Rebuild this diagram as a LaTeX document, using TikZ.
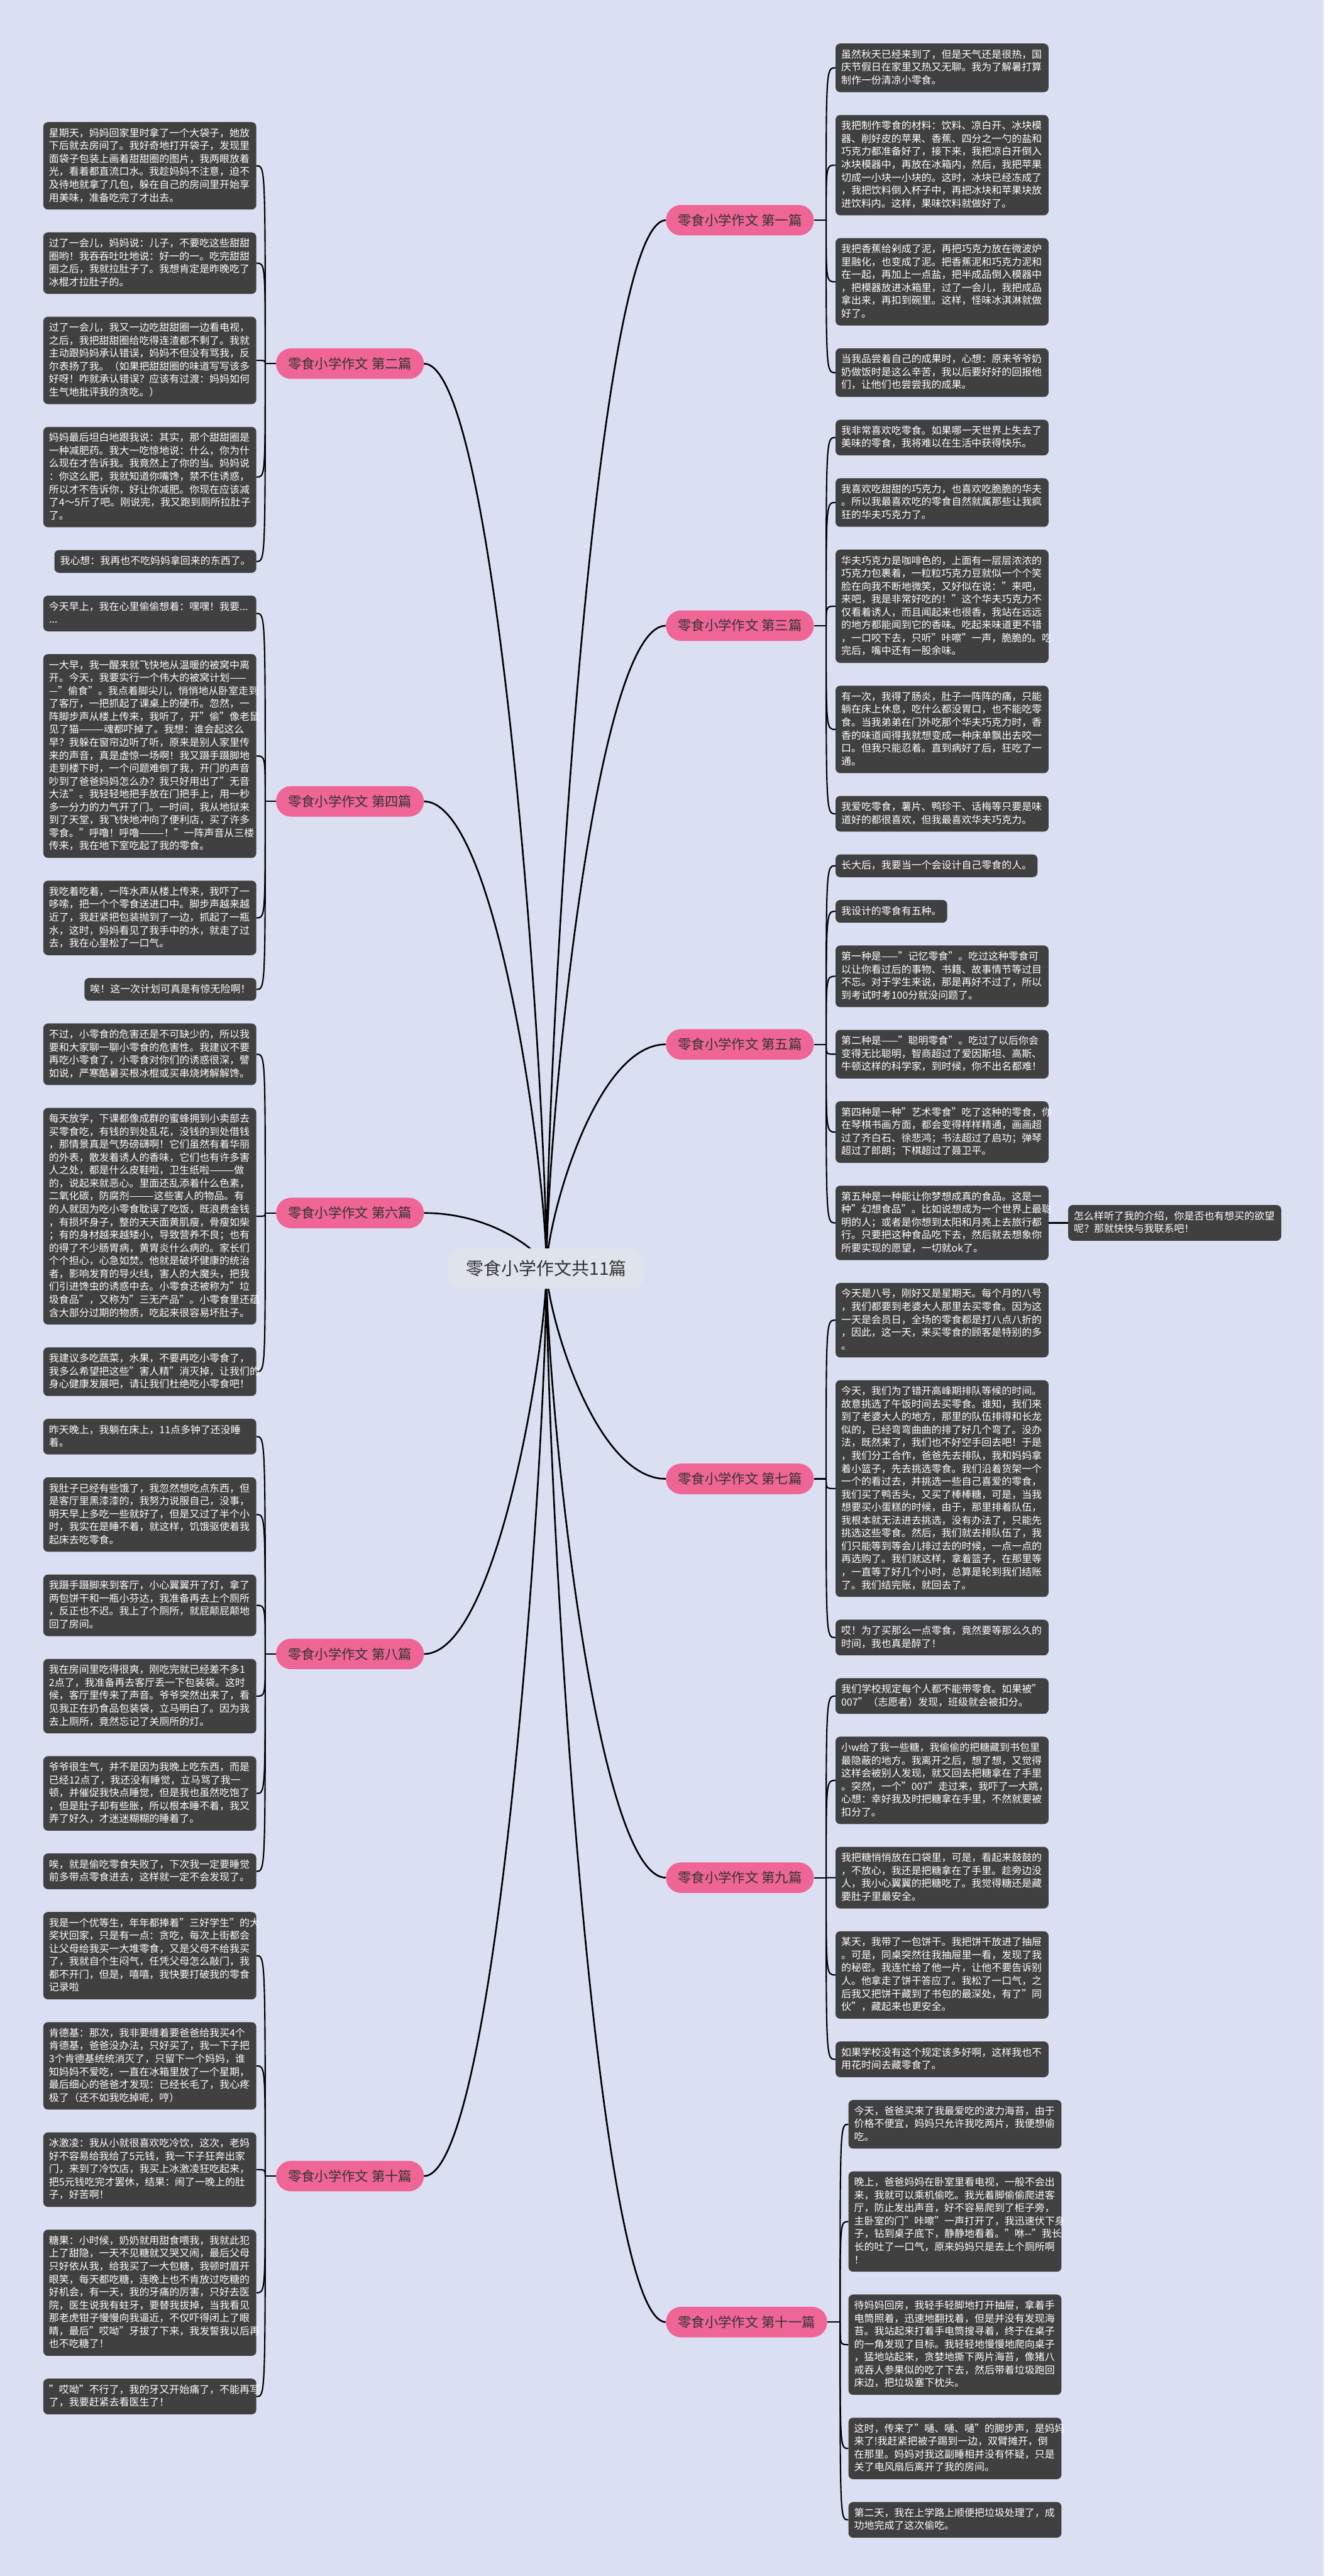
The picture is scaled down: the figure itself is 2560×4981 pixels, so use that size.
\documentclass[tikz,border=0pt]{standalone}
\usepackage{fontspec}
\setmainfont{Noto Sans CJK SC}
\usetikzlibrary{calc}
\XeTeXdashbreakstate=0
\pgfdeclarelayer{bg}
\pgfdeclarelayer{edges}
\pgfsetlayers{bg,edges,main}
\definecolor{bgc}{HTML}{DAE0F2}
\definecolor{boxc}{HTML}{404040}
\definecolor{pinkc}{HTML}{EF6595}
\definecolor{cenc}{HTML}{DFE3EC}
\definecolor{brtext}{HTML}{333333}
\newcommand\zs{\rule[-6.5pt]{0pt}{25pt}}
\newcommand\nobrk{\XeTeXdashbreakstate=0 \exhyphenpenalty=10000 \hyphenpenalty=10000 }
\tikzset{
  txt/.style={fill=boxc, text=white, rounded corners=9pt, align=left, inner xsep=11pt, inner ysep=9.5pt,
    font=\fontsize{19.4}{25}\selectfont, execute at begin node={\nobrk\zs}, execute at end node=\zs},
  wide/.style={txt, text width=390pt},
  brnode/.style={fill=pinkc, text=brtext, rounded corners=29pt, inner xsep=23pt, inner ysep=0pt,
    minimum height=59pt, font=\fontsize{26}{30}\selectfont},
  cennode/.style={fill=cenc, text=brtext, rounded corners=28pt, minimum width=380pt, minimum height=78pt,
    font=\fontsize{34}{38}\selectfont},
  conn/.style={draw=black, line width=2.6pt},
  mainconn/.style={draw=black, line width=3.2pt}
}
\newcommand\lcurve[2]{\draw[conn] (513,0 |- #1.west) .. controls (513,0 |- #2.east) .. (#2.east);}
\newcommand\rcurve[3]{\draw[conn] (#3,0 |- #1.east) .. controls (#3,0 |- #2.west) .. (#2.west);}
\newcommand\ccurve[2]{\draw[mainconn] (c.center) .. controls ($(c.center)!0.2!(c.center |- #1.#2)$) and ($(#1.#2)!0.6!(c.center |- #1.#2)$) .. (#1.#2);}
\begin{document}
\XeTeXdashbreakstate=0
\begin{tikzpicture}[x=1pt,y=-1pt]
\begin{pgfonlayer}{bg}
\fill[bgc] (0,0) rectangle (2560,4981);
\end{pgfonlayer}
\useasboundingbox (0,0) rectangle (2560,4981);

% ---------------- LEFT COLUMN ----------------
\node[wide, anchor=north east] (L2a) at (496,236) {星期天，妈妈回家里时拿了一个大袋子，她放\\下后就去房间了。我好奇地打开袋子，发现里\\面袋子包装上画着甜甜圈的图片，我两眼放着\\光，看着都直流口水。我趁妈妈不注意，迫不\\及待地就拿了几包，躲在自己的房间里开始享\\用美味，准备吃完了才出去。};
\node[wide, anchor=north east] (L2b) at ($(L2a.south east)+(0,43.7)$) {过了一会儿，妈妈说：儿子，不要吃这些甜甜\\圈哟！我吞吞吐吐地说：好一的一。吃完甜甜\\圈之后，我就拉肚子了。我想肯定是昨晚吃了\\冰棍才拉肚子的。};
\node[wide, anchor=north east] (L2c) at ($(L2b.south east)+(0,43.7)$) {过了一会儿，我又一边吃甜甜圈一边看电视，\\之后，我把甜甜圈给吃得连渣都不剩了。我就\\主动跟妈妈承认错误，妈妈不但没有骂我，反\\尔表扬了我。（如果把甜甜圈的味道写写该多\\好呀！咋就承认错误？应该有过渡：妈妈如何\\生气地批评我的贪吃。）};
\node[wide, anchor=north east] (L2d) at ($(L2c.south east)+(0,43.7)$) {妈妈最后坦白地跟我说：其实，那个甜甜圈是\\一种减肥药。我大一吃惊地说：什么，你为什\\么现在才告诉我。我竟然上了你的当。妈妈说\\：你这么肥，我就知道你嘴馋，禁不住诱惑，\\所以才不告诉你，好让你减肥。你现在应该减\\了4～5斤了吧。刚说完，我又跑到厕所拉肚子\\了。};
\node[txt, anchor=north east] (L2e) at ($(L2d.south east)+(0,43.7)$) {我心想：我再也不吃妈妈拿回来的东西了。};

\node[wide, anchor=north east] (L4a) at ($(L2e.south east)+(0,43.7)$) {今天早上，我在心里偷偷想着：嘿嘿！我要...\\...};
\node[wide, anchor=north east] (L4b) at ($(L4a.south east)+(0,43.7)$) {一大早，我一醒来就飞快地从温暖的被窝中离\\开。今天，我要实行一个伟大的被窝计划——\\—"偷食"。我点着脚尖儿，悄悄地从卧室走到\\了客厅，一把抓起了课桌上的硬币。忽然，一\\阵脚步声从楼上传来，我听了，开"偷"像老鼠\\见了猫———魂都吓掉了。我想：谁会起这么\\早？我躲在窗帘边听了听，原来是别人家里传\\来的声音，真是虚惊一场啊！我又蹑手蹑脚地\\走到楼下时，一个问题难倒了我，开门的声音\\吵到了爸爸妈妈怎么办？我只好用出了"无音\\大法"。我轻轻地把手放在门把手上，用一秒\\多一分力的力气开了门。一时间，我从地狱来\\到了天堂，我飞快地冲向了便利店，买了许多\\零食。"呼噜！呼噜———！"一阵声音从三楼\\传来，我在地下室吃起了我的零食。};
\node[wide, anchor=north east] (L4c) at ($(L4b.south east)+(0,43.7)$) {我吃着吃着，一阵水声从楼上传来，我吓了一\\哆嗦，把一个个零食送进口中。脚步声越来越\\近了，我赶紧把包装抛到了一边，抓起了一瓶\\水，这时，妈妈看见了我手中的水，就走了过\\去，我在心里松了一口气。};
\node[txt, anchor=north east] (L4d) at ($(L4c.south east)+(0,43.7)$) {唉！这一次计划可真是有惊无险啊！};

\node[wide, anchor=north east] (L6a) at ($(L4d.south east)+(0,43.7)$) {不过，小零食的危害还是不可缺少的，所以我\\要和大家聊一聊小零食的危害性。我建议不要\\再吃小零食了，小零食对你们的诱惑很深，譬\\如说，严寒酷暑买根冰棍或买串烧烤解解馋。};
\node[wide, anchor=north east] (L6b) at ($(L6a.south east)+(0,43.7)$) {每天放学，下课都像成群的蜜蜂拥到小卖部去\\买零食吃，有钱的到处乱花，没钱的到处借钱\\，那情景真是气势磅礴啊！它们虽然有着华丽\\的外表，散发着诱人的香味，它们也有许多害\\人之处，都是什么皮鞋啦，卫生纸啦———做\\的，说起来就恶心。里面还乱添着什么色素，\\二氧化碳，防腐剂———这些害人的物品。有\\的人就因为吃小零食耽误了吃饭，既浪费金钱\\，有损坏身子，整的天天面黄肌瘦，骨瘦如柴\\；有的身材越来越矮小，导致营养不良；也有\\的得了不少肠胃病，黄胃炎什么病的。家长们\\个个担心，心急如焚。他就是破坏健康的统治\\者，影响发育的导火线，害人的大魔头，把我\\们引进馋虫的诱惑中去。小零食还被称为"垃\\圾食品"，又称为"三无产品"。小零食里还蕴\\含大部分过期的物质，吃起来很容易坏肚子。};
\node[wide, anchor=north east] (L6c) at ($(L6b.south east)+(0,43.7)$) {我建议多吃蔬菜，水果，不要再吃小零食了，\\我多么希望把这些"害人精"消灭掉，让我们的\\身心健康发展吧，请让我们杜绝吃小零食吧！};

\node[wide, anchor=north east] (L8a) at ($(L6c.south east)+(0,43.7)$) {昨天晚上，我躺在床上，11点多钟了还没睡\\着。};
\node[wide, anchor=north east] (L8b) at ($(L8a.south east)+(0,43.7)$) {我肚子已经有些饿了，我忽然想吃点东西，但\\是客厅里黑漆漆的，我努力说服自己，没事，\\明天早上多吃一些就好了，但是又过了半个小\\时，我实在是睡不着，就这样，饥饿驱使着我\\起床去吃零食。};
\node[wide, anchor=north east] (L8c) at ($(L8b.south east)+(0,43.7)$) {我蹑手蹑脚来到客厅，小心翼翼开了灯，拿了\\两包饼干和一瓶小芬达，我准备再去上个厕所\\，反正也不迟。我上了个厕所，就屁颠屁颠地\\回了房间。};
\node[wide, anchor=north east] (L8d) at ($(L8c.south east)+(0,43.7)$) {我在房间里吃得很爽，刚吃完就已经差不多1\\2点了，我准备再去客厅丢一下包装袋。这时\\候，客厅里传来了声音。爷爷突然出来了，看\\见我正在扔食品包装袋，立马明白了。因为我\\去上厕所，竟然忘记了关厕所的灯。};
\node[wide, anchor=north east] (L8e) at ($(L8d.south east)+(0,43.7)$) {爷爷很生气，并不是因为我晚上吃东西，而是\\已经12点了，我还没有睡觉，立马骂了我一\\顿，并催促我快点睡觉，但是我也虽然吃饱了\\，但是肚子却有些胀，所以根本睡不着，我又\\弄了好久，才迷迷糊糊的睡着了。};
\node[wide, anchor=north east] (L8f) at ($(L8e.south east)+(0,43.7)$) {唉，就是偷吃零食失败了，下次我一定要睡觉\\前多带点零食进去，这样就一定不会发现了。};

\node[wide, anchor=north east] (L10a) at ($(L8f.south east)+(0,43.7)$) {我是一个优等生，年年都捧着"三好学生"的大\\奖状回家，只是有一点：贪吃，每次上街都会\\让父母给我买一大堆零食，又是父母不给我买\\了，我就自个生闷气，任凭父母怎么敲门，我\\都不开门，但是，嘻嘻，我快要打破我的零食\\记录啦};
\node[wide, anchor=north east] (L10b) at ($(L10a.south east)+(0,43.7)$) {肯德基：那次，我非要缠着要爸爸给我买4个\\肯德基，爸爸没办法，只好买了，我一下子把\\3个肯德基统统消灭了，只留下一个妈妈，谁\\知妈妈不爱吃，一直在冰箱里放了一个星期，\\最后细心的爸爸才发现：已经长毛了，我心疼\\极了（还不如我吃掉呢，哼）};
\node[wide, anchor=north east] (L10c) at ($(L10b.south east)+(0,43.7)$) {冰激凌：我从小就很喜欢吃冷饮，这次，老妈\\好不容易给我给了5元钱，我一下子狂奔出家\\门，来到了冷饮店，我买上冰激凌狂吃起来，\\把5元钱吃完才罢休，结果：闹了一晚上的肚\\子，好苦啊！};
\node[wide, anchor=north east] (L10d) at ($(L10c.south east)+(0,43.7)$) {糖果：小时候，奶奶就用甜食喂我，我就此犯\\上了甜隐，一天不见糖就又哭又闹，最后父母\\只好依从我，给我买了一大包糖，我顿时眉开\\眼笑，每天都吃糖，连晚上也不肯放过吃糖的\\好机会，有一天，我的牙痛的厉害，只好去医\\院，医生说我有蛀牙，要替我拔掉，当我看见\\那老虎钳子慢慢向我逼近，不仅吓得闭上了眼\\睛，最后"哎呦"牙拔了下来，我发誓我以后再\\也不吃糖了！};
\node[wide, anchor=north east] (L10e) at ($(L10d.south east)+(0,43.7)$) {"哎呦"不行了，我的牙又开始痛了，不能再写\\了，我要赶紧去看医生了！};

% ---------------- RIGHT COLUMN ----------------
\node[wide, anchor=north west] (R1a) at (1616,84) {虽然秋天已经来到了，但是天气还是很热，国\\庆节假日在家里又热又无聊。我为了解暑打算\\制作一份清凉小零食。};
\node[wide, anchor=north west] (R1b) at ($(R1a.south west)+(0,43.7)$) {我把制作零食的材料：饮料、凉白开、冰块模\\器、削好皮的苹果、香蕉、四分之一勺的盐和\\巧克力都准备好了，接下来，我把凉白开倒入\\冰块模器中，再放在冰箱内，然后，我把苹果\\切成一小块一小块的。这时，冰块已经冻成了\\，我把饮料倒入杯子中，再把冰块和苹果块放\\进饮料内。这样，果味饮料就做好了。};
\node[wide, anchor=north west] (R1c) at ($(R1b.south west)+(0,43.7)$) {我把香蕉给剁成了泥，再把巧克力放在微波炉\\里融化，也变成了泥。把香蕉泥和巧克力泥和\\在一起，再加上一点盐，把半成品倒入模器中\\，把模器放进冰箱里，过了一会儿，我把成品\\拿出来，再扣到碗里。这样，怪味冰淇淋就做\\好了。};
\node[wide, anchor=north west] (R1d) at ($(R1c.south west)+(0,43.7)$) {当我品尝着自己的成果时，心想：原来爷爷奶\\奶做饭时是这么辛苦，我以后要好好的回报他\\们，让他们也尝尝我的成果。};

\node[wide, anchor=north west] (R3a) at ($(R1d.south west)+(0,43.7)$) {我非常喜欢吃零食。如果哪一天世界上失去了\\美味的零食，我将难以在生活中获得快乐。};
\node[wide, anchor=north west] (R3b) at ($(R3a.south west)+(0,43.7)$) {我喜欢吃甜甜的巧克力，也喜欢吃脆脆的华夫\\。所以我最喜欢吃的零食自然就属那些让我疯\\狂的华夫巧克力了。};
\node[wide, anchor=north west] (R3c) at ($(R3b.south west)+(0,43.7)$) {华夫巧克力是咖啡色的，上面有一层层浓浓的\\巧克力包裹着，一粒粒巧克力豆就似一个个笑\\脸在向我不断地微笑，又好似在说："来吧，\\来吧，我是非常好吃的！"这个华夫巧克力不\\仅看着诱人，而且闻起来也很香，我站在远远\\的地方都能闻到它的香味。吃起来味道更不错\\，一口咬下去，只听"咔嚓"一声，脆脆的。吃\\完后，嘴中还有一股余味。};
\node[wide, anchor=north west] (R3d) at ($(R3c.south west)+(0,43.7)$) {有一次，我得了肠炎，肚子一阵阵的痛，只能\\躺在床上休息，吃什么都没胃口，也不能吃零\\食。当我弟弟在门外吃那个华夫巧克力时，香\\香的味道闻得我就想变成一种床单飘出去咬一\\口。但我只能忍着。直到病好了后，狂吃了一\\通。};
\node[wide, anchor=north west] (R3e) at ($(R3d.south west)+(0,43.7)$) {我爱吃零食，薯片、鸭珍干、话梅等只要是味\\道好的都很喜欢，但我最喜欢华夫巧克力。};

\node[txt, anchor=north west] (R5a) at ($(R3e.south west)+(0,43.7)$) {长大后，我要当一个会设计自己零食的人。};
\node[txt, anchor=north west] (R5b) at ($(R5a.south west)+(0,43.7)$) {我设计的零食有五种。};
\node[wide, anchor=north west] (R5c) at ($(R5b.south west)+(0,43.7)$) {第一种是——"记忆零食"。吃过这种零食可\\以让你看过后的事物、书籍、故事情节等过目\\不忘。对于学生来说，那是再好不过了，所以\\到考试时考100分就没问题了。};
\node[wide, anchor=north west] (R5d) at ($(R5c.south west)+(0,43.7)$) {第二种是——"聪明零食"。吃过了以后你会\\变得无比聪明，智商超过了爱因斯坦、高斯、\\牛顿这样的科学家，到时候，你不出名都难！};
\node[wide, anchor=north west] (R5e) at ($(R5d.south west)+(0,43.7)$) {第四种是一种"艺术零食"吃了这种的零食，你\\在琴棋书画方面，都会变得样样精通，画画超\\过了齐白石、徐悲鸿；书法超过了启功；弹琴\\超过了郎朗；下棋超过了聂卫平。};
\node[wide, anchor=north west] (R5f) at ($(R5e.south west)+(0,43.7)$) {第五种是一种能让你梦想成真的食品。这是一\\种"幻想食品"。比如说想成为一个世界上最聪\\明的人；或者是你想到太阳和月亮上去旅行都\\行。只要把这种食品吃下去，然后就去想象你\\所要实现的愿望，一切就ok了。};
\node[wide, anchor=west] (R5g) at (2066,0 |- R5f.east) {怎么样听了我的介绍，你是否也有想买的欲望\\呢？那就快快与我联系吧！};

\node[wide, anchor=north west] (R7a) at ($(R5f.south west)+(0,43.7)$) {今天是八号，刚好又是星期天。每个月的八号\\，我们都要到老婆大人那里去买零食。因为这\\一天是会员日，全场的零食都是打八点八折的\\，因此，这一天，来买零食的顾客是特别的多\\。};
\node[wide, anchor=north west] (R7b) at ($(R7a.south west)+(0,43.7)$) {今天，我们为了错开高峰期排队等候的时间。\\故意挑选了午饭时间去买零食。谁知，我们来\\到了老婆大人的地方，那里的队伍排得和长龙\\似的，已经弯弯曲曲的排了好几个弯了。没办\\法，既然来了，我们也不好空手回去吧！于是\\，我们分工合作，爸爸先去排队，我和妈妈拿\\着小篮子，先去挑选零食。我们沿着货架一个\\一个的看过去，并挑选一些自己喜爱的零食，\\我们买了鸭舌头，又买了棒棒糖，可是，当我\\想要买小蛋糕的时候，由于，那里排着队伍，\\我根本就无法进去挑选，没有办法了，只能先\\挑选这些零食。然后，我们就去排队伍了，我\\们只能等到等会儿排过去的时候，一点一点的\\再选购了。我们就这样，拿着篮子，在那里等\\，一直等了好几个小时，总算是轮到我们结账\\了。我们结完账，就回去了。};
\node[wide, anchor=north west] (R7c) at ($(R7b.south west)+(0,43.7)$) {哎！为了买那么一点零食，竟然要等那么久的\\时间，我也真是醉了！};

\node[wide, anchor=north west] (R9a) at ($(R7c.south west)+(0,43.7)$) {我们学校规定每个人都不能带零食。如果被"\\007"（志愿者）发现，班级就会被扣分。};
\node[wide, anchor=north west] (R9b) at ($(R9a.south west)+(0,43.7)$) {小w给了我一些糖，我偷偷的把糖藏到书包里\\最隐蔽的地方。我离开之后，想了想，又觉得\\这样会被别人发现，就又回去把糖拿在了手里\\。突然，一个"007"走过来，我吓了一大跳，\\心想：幸好我及时把糖拿在手里，不然就要被\\扣分了。};
\node[wide, anchor=north west] (R9c) at ($(R9b.south west)+(0,43.7)$) {我把糖悄悄放在口袋里，可是，看起来鼓鼓的\\，不放心，我还是把糖拿在了手里。趁旁边没\\人，我小心翼翼的把糖吃了。我觉得糖还是藏\\要肚子里最安全。};
\node[wide, anchor=north west] (R9d) at ($(R9c.south west)+(0,43.7)$) {某天，我带了一包饼干。我把饼干放进了抽屉\\。可是，同桌突然往我抽屉里一看，发现了我\\的秘密。我连忙给了他一片，让他不要告诉别\\人。他拿走了饼干答应了。我松了一口气，之\\后我又把饼干藏到了书包的最深处，有了"同\\伙"，藏起来也更安全。};
\node[wide, anchor=north west] (R9e) at ($(R9d.south west)+(0,43.7)$) {如果学校没有这个规定该多好啊，这样我也不\\用花时间去藏零食了。};

\node[wide, anchor=north west] (R11a) at ($(R9e.south west)+(25,43.7)$) {今天，爸爸买来了我最爱吃的波力海苔，由于\\价格不便宜，妈妈只允许我吃两片，我便想偷\\吃。};
\node[wide, anchor=north west] (R11b) at ($(R11a.south west)+(0,43.7)$) {晚上，爸爸妈妈在卧室里看电视，一般不会出\\来，我就可以乘机偷吃。我光着脚偷偷爬进客\\厅，防止发出声音，好不容易爬到了柜子旁，\\主卧室的门"咔嚓"一声打开了，我迅速伏下身\\子，钻到桌子底下，静静地看着。"咻\mbox{-}\mbox{-}"我长\\长的吐了一口气，原来妈妈只是去上个厕所啊\\！};
\node[wide, anchor=north west] (R11c) at ($(R11b.south west)+(0,43.7)$) {待妈妈回房，我轻手轻脚地打开抽屉，拿着手\\电筒照着，迅速地翻找着，但是并没有发现海\\苔。我站起来打着手电筒搜寻着，终于在桌子\\的一角发现了目标。我轻轻地慢慢地爬向桌子\\，猛地站起来，贪婪地撕下两片海苔，像猪八\\戒吞人参果似的吃了下去，然后带着垃圾跑回\\床边，把垃圾塞下枕头。};
\node[wide, anchor=north west] (R11d) at ($(R11c.south west)+(0,43.7)$) {这时，传来了"嗵、嗵、嗵"的脚步声，是妈妈\\来了!我赶紧把被子踢到一边，双臂摊开，倒\\在那里。妈妈对我这副睡相并没有怀疑，只是\\关了电风扇后离开了我的房间。};
\node[wide, anchor=north west] (R11e) at ($(R11d.south west)+(0,43.7)$) {第二天，我在上学路上顺便把垃圾处理了，成\\功地完成了这次偷吃。};

% ---------------- BRANCHES ----------------
\coordinate (m2) at ($(L2a.east)!0.5!(L2e.east)$);
\coordinate (m4) at ($(L4a.east)!0.5!(L4d.east)$);
\coordinate (m6) at ($(L6a.east)!0.5!(L6c.east)$);
\coordinate (m8) at ($(L8a.east)!0.5!(L8f.east)$);
\coordinate (m10) at ($(L10a.east)!0.5!(L10e.east)$);
\coordinate (m1) at ($(R1a.west)!0.5!(R1d.west)$);
\coordinate (m3) at ($(R3a.west)!0.5!(R3e.west)$);
\coordinate (m5) at ($(R5a.west)!0.5!(R5f.west)$);
\coordinate (m7) at ($(R7a.west)!0.5!(R7c.west)$);
\coordinate (m9) at ($(R9a.west)!0.5!(R9e.west)$);
\coordinate (m11) at ($(R11a.west)!0.5!(R11e.west)$);

\node[brnode, anchor=east] (b2) at (820,0 |- m2) {零食小学作文 第二篇};
\node[brnode, anchor=east] (b4) at (820,0 |- m4) {零食小学作文 第四篇};
\node[brnode, anchor=east] (b6) at (820,0 |- m6) {零食小学作文 第六篇};
\node[brnode, anchor=east] (b8) at (820,0 |- m8) {零食小学作文 第八篇};
\node[brnode, anchor=east] (b10) at (820,0 |- m10) {零食小学作文 第十篇};
\node[brnode, anchor=west] (b1) at (1288,0 |- m1) {零食小学作文 第一篇};
\node[brnode, anchor=west] (b3) at (1288,0 |- m3) {零食小学作文 第三篇};
\node[brnode, anchor=west] (b5) at (1288,0 |- m5) {零食小学作文 第五篇};
\node[brnode, anchor=west] (b7) at (1288,0 |- m7) {零食小学作文 第七篇};
\node[brnode, anchor=west] (b9) at (1288,0 |- m9) {零食小学作文 第九篇};
\node[brnode, anchor=west] (b11) at (1288,0 |- m11) {零食小学作文 第十一篇};

\node[cennode] (c) at (1057,2453) {零食小学作文共11篇};

% ---------------- CONNECTORS ----------------
\begin{pgfonlayer}{edges}
\foreach \b in {b2,b4,b6,b8,b10}{
  \ccurve{\b}{east}
  \draw[conn] (\b.west) -- (513,0 |- \b.west);
}
\foreach \b in {b1,b3,b5,b7,b9}{
  \ccurve{\b}{west}
  \draw[conn] (\b.east) -- (1598,0 |- \b.east);
}
\ccurve{b11}{west}
\draw[conn] (b11.east) -- (1625,0 |- b11.east);

\foreach \t in {L2a,L2b,L2c,L2d,L2e}{\lcurve{b2}{\t}}
\foreach \t in {L4a,L4b,L4c,L4d}{\lcurve{b4}{\t}}
\foreach \t in {L6a,L6b,L6c}{\lcurve{b6}{\t}}
\foreach \t in {L8a,L8b,L8c,L8d,L8e,L8f}{\lcurve{b8}{\t}}
\foreach \t in {L10a,L10b,L10c,L10d,L10e}{\lcurve{b10}{\t}}
\foreach \t in {R1a,R1b,R1c,R1d}{\rcurve{b1}{\t}{1598}}
\foreach \t in {R3a,R3b,R3c,R3d,R3e}{\rcurve{b3}{\t}{1598}}
\foreach \t in {R5a,R5b,R5c,R5d,R5e,R5f}{\rcurve{b5}{\t}{1598}}
\foreach \t in {R7a,R7b,R7c}{\rcurve{b7}{\t}{1598}}
\foreach \t in {R9a,R9b,R9c,R9d,R9e}{\rcurve{b9}{\t}{1598}}
\foreach \t in {R11a,R11b,R11c,R11d,R11e}{\rcurve{b11}{\t}{1625}}
\draw[conn] (R5f.east) -- (R5g.west);
\end{pgfonlayer}
\end{tikzpicture}
\end{document}
